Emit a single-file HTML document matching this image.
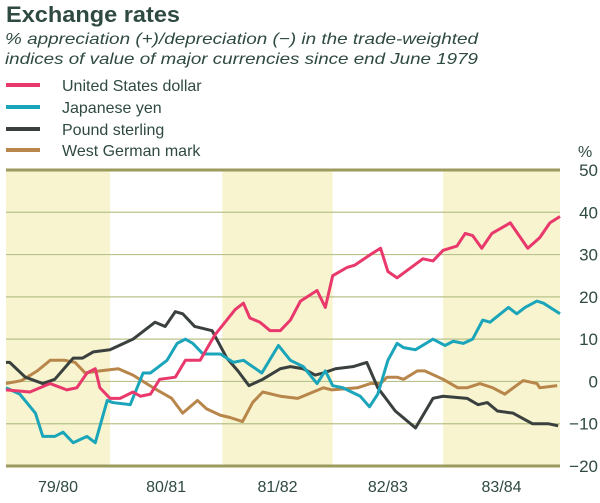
<!DOCTYPE html>
<html><head><meta charset="utf-8"><style>
body{margin:0;background:#fff;width:600px;height:498px;overflow:hidden;font-family:"Liberation Sans",sans-serif;color:#2f4a40}
</style></head><body>
<svg width="600" height="498" xmlns="http://www.w3.org/2000/svg">
<text x="6" y="22" font-size="22" font-weight="bold" fill="#2f4a40" textLength="174" lengthAdjust="spacingAndGlyphs">Exchange rates</text>
<text x="5" y="44" font-size="16" font-style="italic" fill="#2f4a40" textLength="473" lengthAdjust="spacingAndGlyphs">% appreciation (+)/depreciation (−) in the trade-weighted</text>
<text x="5" y="64" font-size="16" font-style="italic" fill="#2f4a40" textLength="473" lengthAdjust="spacingAndGlyphs">indices of value of major currencies since end June 1979</text>
<g id="legend"></g>
<g id="bands"></g><g id="grid"></g><g id="lines"></g><g id="labels"></g>
<text x="578" y="157" font-size="16" fill="#2f4a40">%</text>
</svg>
<script>
const seriesNames=["United States dollar","Japanese yen","Pound sterling","West German mark"];
const colors=["#e8386c","#1ba5ba","#3a403e","#b8864a"];
const usdMonths=[0,2.6,4.8,6.6,7.7,8.8,9.7,10.2,11.3,12.4,13.8,14.6,15.7,16.7,18.4,19.5,21.1,22.7,24.9,25.8,26.5,27.6,28.7,29.8,30.9,32.0,33.8,34.7,35.5,37.1,37.9,39.6,40.7,41.5,42.5,45.3,46.4,47.5,49.0,49.9,50.7,51.7,52.8,54.8,56.7,58.0,59.1,60.2];
const usdValues=[-2,-2.5,-0.5,-2,-1.5,2,3,-1.5,-4,-4,-2.5,-3.5,-3,0.5,1,5,5,11,17,18.5,15,14,12,12,14.5,19,21.5,17.5,25,27,27.5,30,31.5,26,24.5,29,28.5,31,32,35,34.5,31.5,35,37.5,31.5,34,37.5,39];
const yenMonths=[0,1.5,3.2,4.0,5.3,6.2,7.3,8.8,9.7,11.0,11.6,13.5,14.9,15.7,17.5,18.6,19.5,20.3,21.4,23.3,24.7,25.8,27.8,29.6,30.9,32.3,33.8,34.7,35.5,36.6,38.5,39.5,40.4,41.5,42.5,43.2,44.5,46.4,47.7,48.6,49.7,50.7,51.8,52.6,54.6,55.5,56.4,57.7,58.4,60.2];
const yenValues=[-1.5,-3,-7.5,-13,-13,-12,-14.5,-13,-14.5,-4.5,-5,-5.5,2,2,5,9,10,9,6.5,6.5,4.5,5,2,8.5,5,3.5,-0.5,2.5,-1,-1.5,-3.5,-6,-3,5,9,8,7.5,10,8.5,9.5,9,10,14.5,14,17.5,16,17.5,19,18.5,16];
const gbpMonths=[0,0.4,2.1,4.0,5.3,7.3,8.3,9.5,11.3,13.8,16.2,17.3,18.4,19.2,20.5,22.4,24.0,25.2,26.4,27.9,29.8,30.9,32.3,33.6,34.5,35.8,37.7,39.2,40.4,42.3,44.5,46.4,47.5,50.1,51.3,52.3,53.4,55.1,57.2,58.9,60.0];
const gbpValues=[4.5,4.5,1,-0.5,0.5,5.5,5.5,7,7.5,10,14,13,16.5,16,13,12,5.5,2.5,-1,0.5,3,3.5,3,1.5,2,3,3.5,4.5,-1.5,-7,-11,-4,-3.5,-4,-5.5,-5,-7,-7.5,-10,-10,-10.5];
const dmMonths=[0,1.7,3.4,4.8,6.4,7.5,8.6,10.2,12.2,13.8,16.0,18.0,19.2,20.8,21.8,23.3,24.3,25.7,26.8,27.9,29.8,31.7,34.5,35.4,38.2,39.6,40.7,41.4,42.5,43.2,44.7,45.5,47.5,49.1,50.1,51.5,52.9,54.2,56.2,57.7,58.0,59.9];
const dmValues=[-0.5,0.2,2.5,5,5,4.5,2,2.5,3,1.5,-1.5,-4,-7.5,-4.5,-6.5,-8,-8.5,-9.5,-5,-2.5,-3.5,-4,-1.5,-2,-1.5,-0.5,-0.5,1,1,0.5,2.5,2.5,0.5,-1.5,-1.5,-0.5,-1.5,-3,0.2,-0.5,-1.5,-1];
const yearLabels=["79/80","80/81","81/82","82/83","83/84"];
const yearStarts=[0,11.3,23.5,35.5,47.5,60.2];
const yTicks=[50,40,30,20,10,0,-10,-20];
const NS="http://www.w3.org/2000/svg";
const L=6,R=560,T=170,B=466,mMax=60.2;
const x=m=>L+(R-L)*m/mMax;
const y=v=>T+(B-T)*(50-v)/70;
function mk(t,a,p){const e=document.createElementNS(NS,t);for(const k in a)e.setAttribute(k,a[k]);p.appendChild(e);return e;}
const bands=document.getElementById('bands'),grid=document.getElementById('grid'),lines=document.getElementById('lines'),labels=document.getElementById('labels'),legend=document.getElementById('legend');
yearLabels.forEach((lab,i)=>{
  if(i%2===0){const r=mk('rect',{x:x(yearStarts[i]),y:T,width:x(yearStarts[i+1])-x(yearStarts[i]),height:B-T,fill:'#f8f4cf'},bands);
  
  }
  const t=mk('text',{x:(x(yearStarts[i])+x(yearStarts[i+1]))/2,y:492,'font-size':16,'text-anchor':'middle',fill:'#2f4a40'},labels);
  t.textContent=lab;
  
  
});
yTicks.forEach(v=>{
  const edge=(v===50||v===-20);
  const g=mk('line',{x1:L,x2:R,y1:y(v),y2:y(v),stroke:edge?'#9c9a5c':'#b9c28a','stroke-width':edge?3:1.2},grid);
  
  
  const t=mk('text',{x:598,y:y(v)+6,'font-size':17,'text-anchor':'end',fill:'#2f4a40'},labels);
  t.textContent=v<0?'−'+(-v):String(v);
  
  
});
const all=[[usdMonths,usdValues],[yenMonths,yenValues],[gbpMonths,gbpValues],[dmMonths,dmValues]];
const keys=['usd','yen','gbp','dm'];
[3,2,1,0].forEach(i=>{
  const [ms,vs]=all[i];
  const p=mk('polyline',{points:ms.map((m,j)=>x(m)+','+y(vs[j])).join(' '),fill:'none',stroke:colors[i],'stroke-width':3,'stroke-linejoin':'round'},lines);
  
  
});
const legY=[85,107,129,150];
seriesNames.forEach((n,i)=>{
  const l=mk('line',{x1:6,x2:40,y1:legY[i],y2:legY[i],stroke:colors[i],'stroke-width':4},legend);
  
  
  const t=mk('text',{x:62,y:legY[i]+6,'font-size':16,fill:'#2f4a40'},legend);
  t.textContent=n;
  
  
});
</script>
</body></html>
